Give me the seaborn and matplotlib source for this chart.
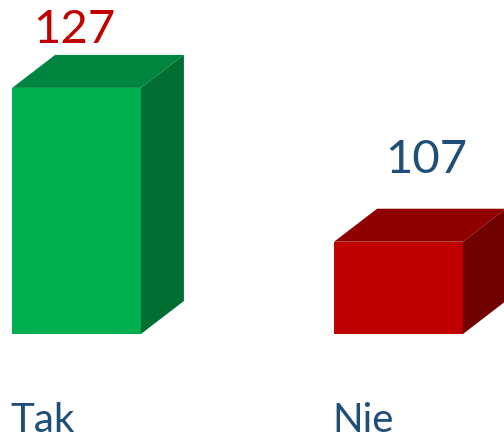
import matplotlib
matplotlib.use("Agg")
import matplotlib.pyplot as plt
import seaborn as sns
import pandas as pd
from matplotlib.patches import Polygon

# ---- data ----
categories = ["Tak", "Nie"]
values = [127, 107]
axis_min = 95  # value axis starts here (bars grow from this level)

# ---- style ----
front_colors = ["#00B050", "#C00000"]
top_colors = ["#00853F", "#910000"]
side_colors = ["#006F31", "#710000"]
value_colors = ["#C00000", "#1F4E79"]
cat_color = "#1F4E79"
depth_px = (43, 33)            # 3-D depth offset in pixels
value_label_offset = [(-2, 12), (28, 36)]  # px offset of value labels

sns.set_theme(style="white")
plt.rcParams["font.family"] = ["Lato", "DejaVu Sans"]

fig = plt.figure(figsize=(5.04, 4.40), dpi=100)
ax = fig.add_axes([0, 0, 1, 1])

df = pd.DataFrame({"cat": categories, "h": [v - axis_min for v in values]})
sns.barplot(data=df, x="cat", y="h", hue="cat", palette=front_colors,
            saturation=1, width=0.4, linewidth=0, legend=False, ax=ax)

ax.set_xlim(-0.2376, 1.3276)
ax.set_ylim(-13.78, 43.43)
ax.set_axis_off()
fig.canvas.draw()

to_disp = ax.transData
to_data = ax.transData.inverted()
dx, dy = depth_px

for i, p in enumerate(ax.patches[:len(values)]):
    x0, y0 = p.get_x(), p.get_y()
    x1, y1 = x0 + p.get_width(), y0 + p.get_height()
    (X0, Y0), (X1, Y1) = to_disp.transform([(x0, y0), (x1, y1)])
    top = [(X0, Y1), (X0 + dx, Y1 + dy), (X1 + dx, Y1 + dy), (X1, Y1)]
    side = [(X1, Y0), (X1 + dx, Y0 + dy), (X1 + dx, Y1 + dy), (X1, Y1)]
    ax.add_patch(Polygon(to_data.transform(top), closed=True,
                         facecolor=top_colors[i], edgecolor="none"))
    ax.add_patch(Polygon(to_data.transform(side), closed=True,
                         facecolor=side_colors[i], edgecolor="none"))
    # value label
    ox, oy = value_label_offset[i]
    lx, ly = to_data.transform([((X0 + X1) / 2 + ox, Y1 + dy + oy)])[0]
    ax.text(lx, ly, str(values[i]), ha="center", va="baseline",
            fontsize=34, color=value_colors[i])
    # category label
    cx, cy = to_data.transform([(X0 - 2, 440 - 432)])[0]
    ax.text(cx, cy, categories[i], ha="left", va="baseline",
            fontsize=29, color=cat_color)

fig.savefig("out.png", dpi=100)
